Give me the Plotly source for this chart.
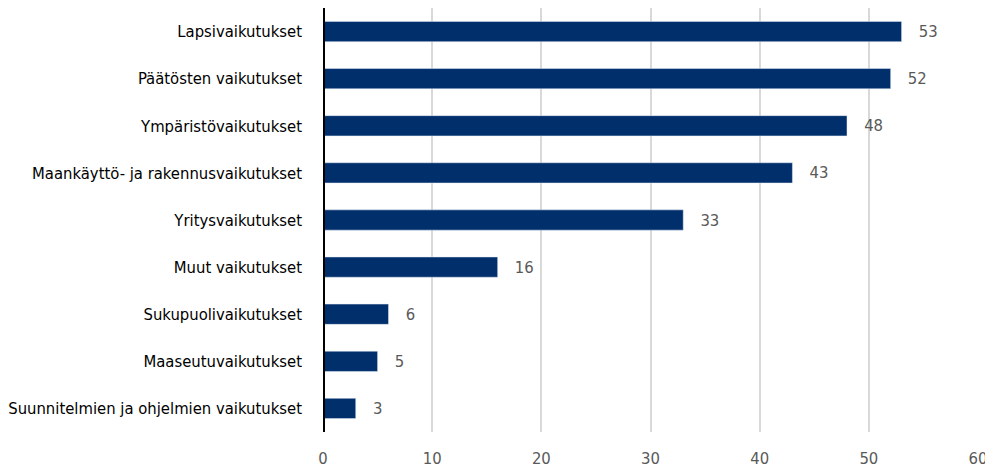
import plotly.graph_objects as go

categories = [
    "Lapsivaikutukset",
    "Päätösten vaikutukset",
    "Ympäristövaikutukset",
    "Maankäyttö- ja rakennusvaikutukset",
    "Yritysvaikutukset",
    "Muut vaikutukset",
    "Sukupuolivaikutukset",
    "Maaseutuvaikutukset",
    "Suunnitelmien ja ohjelmien vaikutukset",
]
values = [53, 52, 48, 43, 33, 16, 6, 5, 3]
x_ticks = [0, 10, 20, 30, 40, 50, 60]

FONT = "DejaVu Sans Condensed, Liberation Sans Narrow, Arial Narrow, sans-serif"

fig = go.Figure(go.Bar(
    y=categories,
    x=values,
    orientation="h",
    marker=dict(color="#002F6C"),
    width=0.43,
    text=["   " + str(v) for v in values],
    textposition="outside",
    textfont=dict(family=FONT, size=16.5, color="#595959"),
    cliponaxis=False,
))

# page body has an 8px margin, so the figure is sized to fit the 993x472 window
fig.update_layout(
    width=985, height=464,
    margin=dict(l=315, r=15, t=0, b=40, autoexpand=False),
    paper_bgcolor="white", plot_bgcolor="white",
    showlegend=False,
    font=dict(family=FONT),
)
fig.update_xaxes(
    range=[0, 60], tickvals=x_ticks, automargin=False,
    showgrid=True, gridcolor="#d9d9d9", gridwidth=1.5,
    zeroline=False, showline=False,
    tickfont=dict(family=FONT, size=16.5, color="#595959"),
    ticks="", ticklabelstandoff=14,
)
fig.update_yaxes(
    autorange="reversed", automargin=False,
    tickfont=dict(family=FONT, size=16.5, color="#000000"),
    showgrid=False, showline=False, zeroline=False,
    ticks="", ticklabelstandoff=20,
)
fig.add_shape(type="line", xref="x", yref="paper", x0=0, x1=0, y0=0, y1=1,
              line=dict(color="black", width=4))

fig.write_html("out.html")
